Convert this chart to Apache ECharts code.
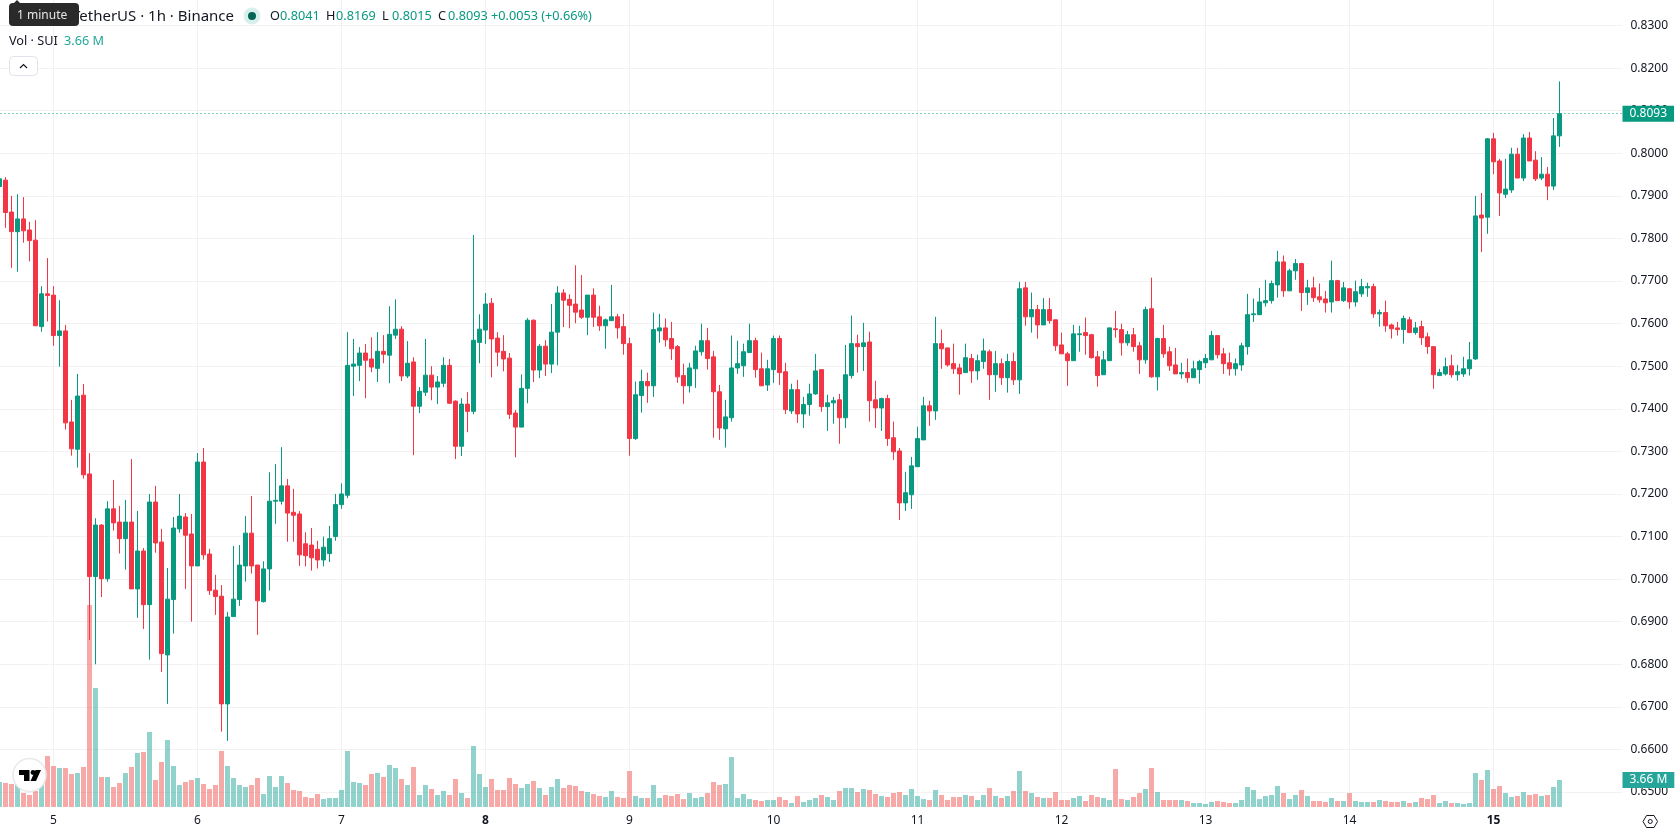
<!DOCTYPE html>
<html>
<head>
<meta charset="utf-8">
<title>SUI / TetherUS 1h</title>
<script src="https://cdn.jsdelivr.net/npm/echarts@6/dist/echarts.min.js"></script>
<style>
  html, body { margin: 0; padding: 0; background: #fff; }
  #chart { width: 1678px; height: 835px; overflow: hidden; }
</style>
</head>
<body>
<div id="chart"></div>
<script>
// Hourly SUI/USDT candles, oldest first
const opens = [
  0.7922,0.7937,0.7862,0.7816,0.7846,0.7820,0.7796,0.7593,0.7670,0.7667,
  0.7572,0.7583,0.7369,0.7305,0.7432,0.7247,0.7006,0.7127,0.7001,0.7165,
  0.7134,0.7095,0.7134,0.6977,0.7066,0.6940,0.7181,0.7087,0.6822,0.6952,
  0.7118,0.7146,0.7106,0.7031,0.7275,0.7059,0.6974,0.6960,0.6707,0.6912,
  0.6952,0.7031,0.7108,0.7033,0.6947,0.7024,0.7183,0.7183,0.7219,0.7157,
  0.7153,0.7083,0.7080,0.7070,0.7045,0.7060,0.7100,0.7175,0.7197,0.7500,
  0.7502,0.7531,0.7517,0.7495,0.7535,0.7526,0.7573,0.7587,0.7477,0.7510,
  0.7406,0.7439,0.7479,0.7451,0.7460,0.7502,0.7418,0.7312,0.7411,0.7394,
  0.7556,0.7585,0.7648,0.7566,0.7535,0.7519,0.7390,0.7357,0.7448,0.7608,
  0.7491,0.7547,0.7505,0.7580,0.7672,0.7657,0.7646,0.7632,0.7615,0.7667,
  0.7616,0.7595,0.7607,0.7616,0.7593,0.7553,0.7330,0.7431,0.7464,0.7454,
  0.7583,0.7590,0.7565,0.7546,0.7478,0.7454,0.7494,0.7534,0.7560,0.7522,
  0.7440,0.7353,0.7379,0.7496,0.7501,0.7532,0.7560,0.7494,0.7456,0.7492,
  0.7565,0.7487,0.7395,0.7445,0.7388,0.7410,0.7435,0.7492,0.7405,0.7414,
  0.7421,0.7379,0.7478,0.7553,0.7546,0.7557,0.7421,0.7402,0.7424,0.7332,
  0.7301,0.7179,0.7198,0.7264,0.7327,0.7407,0.7395,0.7553,0.7543,0.7506,
  0.7496,0.7485,0.7518,0.7489,0.7511,0.7534,0.7480,0.7506,0.7473,0.7511,
  0.7468,0.7684,0.7616,0.7633,0.7597,0.7633,0.7609,0.7550,0.7529,0.7513,
  0.7574,0.7579,0.7574,0.7522,0.7480,0.7513,0.7588,0.7586,0.7555,0.7574,
  0.7548,0.7515,0.7635,0.7475,0.7565,0.7534,0.7503,0.7482,0.7485,0.7473,
  0.7492,0.7508,0.7515,0.7572,0.7529,0.7508,0.7494,0.7503,0.7546,0.7621,
  0.7621,0.7649,0.7654,0.7691,0.7745,0.7677,0.7724,0.7741,0.7673,0.7684,
  0.7663,0.7658,0.7651,0.7701,0.7654,0.7682,0.7651,0.7670,0.7684,0.7687,
  0.7623,0.7626,0.7597,0.7590,0.7586,0.7609,0.7579,0.7593,0.7569,0.7546,
  0.7478,0.7482,0.7501,0.7480,0.7482,0.7494,0.7517,0.7855,0.7850,0.8034,
  0.7982,0.7904,0.7914,0.7998,0.7942,0.8036,0.7984,0.7942,0.7951,0.7923,0.8041
];
const highs = [
  0.7942,0.7944,0.7900,0.7904,0.7897,0.7839,0.7843,0.7688,0.7754,0.7688,
  0.7655,0.7597,0.7421,0.7482,0.7458,0.7296,0.7143,0.7129,0.7183,0.7233,
  0.7172,0.7186,0.7282,0.7160,0.7073,0.7200,0.7219,0.7118,0.7026,0.7146,
  0.7200,0.7155,0.7153,0.7296,0.7308,0.7071,0.7010,0.6986,0.6923,0.7078,
  0.7080,0.7148,0.7195,0.7033,0.7042,0.7251,0.7270,0.7310,0.7235,0.7212,
  0.7160,0.7110,0.7120,0.7090,0.7100,0.7125,0.7200,0.7225,0.7580,0.7564,
  0.7545,0.7552,0.7568,0.7580,0.7573,0.7641,0.7657,0.7594,0.7559,0.7521,
  0.7451,0.7564,0.7500,0.7477,0.7521,0.7517,0.7420,0.7425,0.7439,0.7808,
  0.7622,0.7672,0.7660,0.7580,0.7573,0.7531,0.7397,0.7481,0.7613,0.7610,
  0.7552,0.7561,0.7646,0.7688,0.7681,0.7669,0.7737,0.7714,0.7667,0.7683,
  0.7642,0.7612,0.7691,0.7623,0.7623,0.7567,0.7464,0.7492,0.7485,0.7626,
  0.7623,0.7612,0.7604,0.7550,0.7506,0.7508,0.7548,0.7600,0.7590,0.7536,
  0.7456,0.7421,0.7572,0.7560,0.7553,0.7600,0.7567,0.7532,0.7515,0.7572,
  0.7572,0.7508,0.7459,0.7468,0.7428,0.7459,0.7529,0.7492,0.7433,0.7428,
  0.7435,0.7550,0.7619,0.7574,0.7602,0.7581,0.7466,0.7426,0.7433,0.7370,
  0.7308,0.7252,0.7287,0.7358,0.7428,0.7419,0.7616,0.7586,0.7543,0.7553,
  0.7506,0.7553,0.7529,0.7527,0.7565,0.7539,0.7536,0.7518,0.7529,0.7532,
  0.7698,0.7698,0.7673,0.7644,0.7660,0.7660,0.7609,0.7579,0.7534,0.7597,
  0.7595,0.7614,0.7576,0.7536,0.7536,0.7590,0.7630,0.7600,0.7583,0.7590,
  0.7557,0.7640,0.7708,0.7567,0.7597,0.7546,0.7543,0.7508,0.7518,0.7513,
  0.7515,0.7529,0.7583,0.7572,0.7543,0.7532,0.7518,0.7555,0.7670,0.7659,
  0.7684,0.7703,0.7701,0.7771,0.7760,0.7729,0.7752,0.7743,0.7703,0.7710,
  0.7694,0.7677,0.7748,0.7703,0.7698,0.7684,0.7701,0.7705,0.7696,0.7694,
  0.7633,0.7654,0.7600,0.7604,0.7619,0.7616,0.7604,0.7607,0.7579,0.7546,
  0.7494,0.7520,0.7527,0.7503,0.7522,0.7557,0.7900,0.7907,0.8036,0.8048,
  0.7987,0.7987,0.8013,0.8013,0.8045,0.8050,0.8005,0.7991,0.7968,0.8083,0.8169
];
const lows = [
  0.7920,0.7825,0.7731,0.7722,0.7790,0.7746,0.7595,0.7581,0.7605,0.7548,
  0.7499,0.7351,0.7290,0.7262,0.7236,0.6857,0.6800,0.6958,0.6994,0.7114,
  0.7060,0.7022,0.6977,0.6909,0.6883,0.6811,0.7062,0.6782,0.6707,0.6872,
  0.7109,0.6977,0.6900,0.7031,0.7046,0.6963,0.6916,0.6642,0.6620,0.6912,
  0.6937,0.6994,0.7013,0.6869,0.6945,0.6973,0.7130,0.7175,0.7088,0.7088,
  0.7031,0.7030,0.7020,0.7025,0.7030,0.7040,0.7090,0.7165,0.7190,0.7430,
  0.7465,0.7425,0.7486,0.7463,0.7507,0.7460,0.7564,0.7465,0.7472,0.7291,
  0.7390,0.7430,0.7420,0.7411,0.7451,0.7411,0.7282,0.7289,0.7345,0.7387,
  0.7507,0.7552,0.7474,0.7500,0.7488,0.7376,0.7286,0.7357,0.7413,0.7463,
  0.7472,0.7477,0.7484,0.7502,0.7592,0.7589,0.7601,0.7611,0.7573,0.7592,
  0.7583,0.7541,0.7607,0.7565,0.7527,0.7290,0.7327,0.7391,0.7414,0.7428,
  0.7555,0.7546,0.7515,0.7461,0.7412,0.7438,0.7449,0.7525,0.7492,0.7332,
  0.7327,0.7309,0.7370,0.7482,0.7475,0.7532,0.7473,0.7454,0.7442,0.7461,
  0.7456,0.7388,0.7388,0.7367,0.7355,0.7384,0.7433,0.7393,0.7348,0.7365,
  0.7318,0.7355,0.7471,0.7485,0.7489,0.7370,0.7355,0.7348,0.7313,0.7280,
  0.7139,0.7160,0.7165,0.7264,0.7327,0.7360,0.7374,0.7494,0.7499,0.7482,
  0.7433,0.7485,0.7461,0.7468,0.7494,0.7421,0.7440,0.7456,0.7438,0.7456,
  0.7435,0.7595,0.7579,0.7565,0.7597,0.7600,0.7536,0.7529,0.7454,0.7513,
  0.7534,0.7527,0.7518,0.7452,0.7480,0.7513,0.7567,0.7525,0.7548,0.7534,
  0.7482,0.7506,0.7473,0.7443,0.7520,0.7489,0.7482,0.7471,0.7461,0.7473,
  0.7459,0.7496,0.7515,0.7518,0.7482,0.7478,0.7478,0.7489,0.7527,0.7604,
  0.7621,0.7640,0.7647,0.7661,0.7663,0.7677,0.7703,0.7630,0.7644,0.7651,
  0.7649,0.7626,0.7626,0.7654,0.7651,0.7635,0.7640,0.7663,0.7663,0.7614,
  0.7593,0.7581,0.7565,0.7572,0.7553,0.7579,0.7574,0.7550,0.7529,0.7447,
  0.7478,0.7478,0.7473,0.7466,0.7475,0.7478,0.7515,0.7768,0.7811,0.7951,
  0.7853,0.7895,0.7907,0.7942,0.7935,0.7982,0.7935,0.7937,0.7890,0.7914,0.8015
];
const closes = [
  0.7940,0.7861,0.7816,0.7846,0.7818,0.7795,0.7595,0.7670,0.7666,0.7572,
  0.7583,0.7367,0.7306,0.7430,0.7245,0.7006,0.7127,0.7001,0.7165,0.7132,
  0.7095,0.7134,0.6977,0.7066,0.6940,0.7181,0.7085,0.6825,0.6953,0.7120,
  0.7148,0.7103,0.7031,0.7275,0.7057,0.6973,0.6959,0.6707,0.6911,0.6953,
  0.7033,0.7108,0.7031,0.6949,0.7024,0.7183,0.7185,0.7219,0.7155,0.7150,
  0.7057,0.7055,0.7050,0.7045,0.7075,0.7095,0.7175,0.7200,0.7502,0.7505,
  0.7531,0.7514,0.7498,0.7535,0.7528,0.7575,0.7587,0.7477,0.7507,0.7406,
  0.7441,0.7479,0.7451,0.7463,0.7502,0.7413,0.7312,0.7411,0.7394,0.7561,
  0.7587,0.7646,0.7564,0.7533,0.7517,0.7387,0.7357,0.7448,0.7608,0.7491,
  0.7547,0.7505,0.7580,0.7672,0.7655,0.7643,0.7627,0.7615,0.7667,0.7615,
  0.7595,0.7609,0.7616,0.7590,0.7553,0.7330,0.7433,0.7464,0.7454,0.7586,
  0.7590,0.7562,0.7541,0.7475,0.7454,0.7496,0.7536,0.7560,0.7518,0.7440,
  0.7355,0.7381,0.7496,0.7506,0.7534,0.7560,0.7492,0.7454,0.7494,0.7565,
  0.7485,0.7398,0.7445,0.7388,0.7410,0.7435,0.7489,0.7405,0.7414,0.7419,
  0.7379,0.7480,0.7553,0.7546,0.7555,0.7419,0.7402,0.7424,0.7330,0.7299,
  0.7179,0.7203,0.7266,0.7330,0.7407,0.7395,0.7553,0.7541,0.7503,0.7494,
  0.7482,0.7520,0.7489,0.7513,0.7536,0.7480,0.7506,0.7473,0.7511,0.7468,
  0.7682,0.7616,0.7633,0.7597,0.7633,0.7607,0.7548,0.7529,0.7513,0.7576,
  0.7576,0.7572,0.7520,0.7478,0.7515,0.7590,0.7586,0.7555,0.7574,0.7546,
  0.7515,0.7633,0.7475,0.7565,0.7529,0.7501,0.7482,0.7485,0.7473,0.7494,
  0.7511,0.7518,0.7572,0.7527,0.7506,0.7494,0.7506,0.7548,0.7621,0.7623,
  0.7651,0.7654,0.7694,0.7745,0.7677,0.7724,0.7741,0.7673,0.7684,0.7661,
  0.7656,0.7649,0.7701,0.7654,0.7684,0.7651,0.7675,0.7687,0.7687,0.7623,
  0.7626,0.7595,0.7588,0.7586,0.7612,0.7579,0.7590,0.7567,0.7546,0.7480,
  0.7485,0.7499,0.7480,0.7487,0.7494,0.7515,0.7853,0.7848,0.8034,0.7980,
  0.7907,0.7916,0.7998,0.7942,0.8036,0.7982,0.7940,0.7951,0.7923,0.8041,0.8093
];
// Traded volume per candle, in millions of SUI
const volumes = [
  3.39,3.25,3.12,3.66,1.90,1.63,2.17,2.98,6.92,5.56,
  5.29,5.29,4.47,4.61,5.42,27.39,16.14,4.07,4.07,2.71,
  3.25,4.61,5.42,7.32,7.46,10.17,3.66,6.10,9.09,5.56,
  2.98,3.39,3.66,3.93,3.12,2.44,2.98,7.59,5.56,3.93,
  2.98,2.71,2.98,3.93,1.76,4.20,2.71,4.20,3.25,2.31,
  2.17,1.36,1.22,1.76,1.08,1.22,1.22,2.31,7.59,3.39,
  3.25,2.98,4.47,4.61,4.07,5.70,5.29,3.80,2.98,5.42,
  1.63,2.98,2.44,1.63,2.17,1.63,3.80,1.90,1.22,8.27,
  4.47,2.71,3.80,2.31,2.31,3.93,3.12,2.58,3.12,3.53,
  2.58,1.63,2.71,3.80,2.58,2.98,2.85,2.17,2.03,1.76,
  1.49,1.36,2.17,1.36,1.22,4.88,1.49,1.22,1.22,2.98,
  1.22,1.63,1.49,1.76,1.08,1.90,1.22,1.36,1.90,3.39,
  2.98,3.12,6.78,1.22,1.76,1.08,0.95,0.81,0.95,0.95,
  1.36,0.95,0.54,1.49,0.68,0.95,1.22,1.63,1.36,0.95,
  2.17,2.58,2.58,2.03,2.44,2.31,1.76,1.49,1.36,1.90,
  2.03,1.63,2.44,1.49,1.08,0.95,2.31,1.63,0.95,1.36,
  1.36,1.63,1.49,0.95,1.63,2.58,1.49,1.22,1.49,2.17,
  4.88,2.17,1.90,1.36,1.22,1.22,2.03,0.95,0.95,1.22,
  1.49,0.81,1.63,1.36,1.22,0.95,5.15,1.08,0.95,1.36,
  1.90,2.44,5.29,2.03,0.95,0.95,0.95,0.95,0.81,0.54,
  0.54,0.41,0.68,0.81,0.68,0.54,0.54,0.95,2.71,2.31,
  1.08,1.49,1.63,2.85,1.90,1.08,1.63,2.31,1.49,0.81,
  0.81,0.68,1.22,0.81,0.81,1.90,0.81,0.68,0.68,0.68,
  0.95,0.81,0.68,0.68,0.81,0.54,0.68,1.22,1.08,1.63,
  0.54,0.81,0.54,0.54,0.41,0.54,4.61,3.66,5.02,2.44,
  2.85,1.90,1.36,1.49,2.03,1.63,1.76,1.49,1.63,2.71,3.66
];
// Day labels on the time scale: candle index of each day's first hour
const dayStarts = [9, 33, 57, 81, 105, 129, 153, 177, 201, 225, 249];
const dayLabels = ['5', '6', '7', '8', '9', '10', '11', '12', '13', '14', '15'];
const boldDays = ['8', '15'];
const lastPrice = 0.8093;
const lastVolume = 3.66;
const legendValues = ['0.8041', '0.8169', '0.8015', '0.8093', '+0.0053 (+0.66%)'];

const UP = '#089981', DOWN = '#F23645';
const VOL_UP = 'rgba(38,166,154,0.5)', VOL_DOWN = 'rgba(239,83,80,0.5)';
const GRID = '#f2f2f2', INK = '#131722';
const FONT = '"Noto Sans", sans-serif';

// Band slots run past the last candle to leave the empty space on the right
const SLOTS = 271;
const categories = Array.from({ length: SLOTS }, (_, i) => String(i));
const labelAt = new Map(dayStarts.map((s, i) => [s, dayLabels[i]]));

const candleData = opens.map((o, i) => [o, closes[i], lows[i], highs[i]]);
const volumeData = volumes.map((v, i) => ({
  value: v,
  itemStyle: { color: closes[i] >= opens[i] ? VOL_UP : VOL_DOWN }
}));

const tagLabel = (bg, text) => ({
  show: true, position: 'end', distance: 0, formatter: text,
  backgroundColor: bg, color: '#fff', padding: [2, 7, 2, 7],
  fontFamily: FONT, fontSize: 12, lineHeight: 12
});

const txt = (x, y, text, fill, size) => ({
  type: 'text', x, y, z: 100,
  style: { text, fill, font: (size || 12.7) + 'px ' + FONT, verticalAlign: 'middle' }
});

const legendX = [270, 326, 382, 438];
const legendKeys = ['O', 'H', 'L', 'C'];

const chart = echarts.init(document.getElementById('chart'), null, { renderer: 'canvas' });
chart.setOption({
  animation: false,
  backgroundColor: '#ffffff',
  grid: [
    { left: -3.5, width: SLOTS * 6, top: -17, height: 851.6, outerBoundsMode: 'none', containLabel: false },
    { left: -3.5, width: SLOTS * 6, top: 0, height: 807, outerBoundsMode: 'none', containLabel: false }
  ],
  xAxis: [
    { type: 'category', gridIndex: 0, data: categories, show: false },
    {
      type: 'category', gridIndex: 1, data: categories, position: 'bottom',
      axisLine: { show: false }, axisTick: { show: false },
      axisLabel: {
        color: INK, fontFamily: FONT, fontSize: 12, margin: 8,
        interval: (i) => labelAt.has(i),
        formatter: (v, i) => {
          const d = labelAt.get(i);
          return boldDays.includes(d) ? '{b|' + d + '}' : d;
        },
        rich: { b: { fontWeight: 'bold', fontSize: 12, fontFamily: FONT, color: INK } }
      },
      splitLine: {
        show: true, alignWithLabel: true,
        interval: (i) => labelAt.has(i),
        lineStyle: { color: GRID, width: 1 }
      }
    }
  ],
  yAxis: [
    {
      type: 'value', gridIndex: 0, position: 'right',
      min: 0.64, max: 0.84, interval: 0.01,
      axisLine: { show: false }, axisTick: { show: false },
      axisLabel: {
        color: INK, fontFamily: FONT, fontSize: 12, margin: 8,
        formatter: (v) => (v < 0.645 || v > 0.835) ? '' : v.toFixed(4)
      },
      splitLine: { show: true, showMinLine: false, showMaxLine: false, lineStyle: { color: GRID, width: 1 } }
    },
    { type: 'value', gridIndex: 1, min: 0, max: 109.4, show: false }
  ],
  series: [
    {
      name: 'Vol', type: 'bar', xAxisIndex: 1, yAxisIndex: 1,
      barWidth: 5, data: volumeData, silent: true,
      markLine: {
        silent: true, symbol: 'none', animation: false, precision: 4,
        lineStyle: { color: 'rgba(0,0,0,0)', width: 1 },
        label: tagLabel('#26a69a', lastVolume + ' M'),
        data: [{ yAxis: lastVolume }]
      }
    },
    {
      name: 'SUIUSDT', type: 'candlestick', xAxisIndex: 0, yAxisIndex: 0,
      barWidth: 4, data: candleData, silent: true,
      itemStyle: { color: UP, color0: DOWN, borderColor: UP, borderColor0: DOWN, borderWidth: 1 },
      markLine: {
        silent: true, symbol: 'none', animation: false, precision: 4,
        lineStyle: { color: UP, type: [1, 3], width: 1 },
        label: tagLabel(UP, lastPrice.toFixed(4)),
        data: [{ yAxis: lastPrice }]
      }
    }
  ],
  graphic: [
    // Legend lines
    { type: 'text', x: 234, y: 17, z: 100,
      style: { text: 'SUI / TetherUS · 1h · Binance', fill: INK, font: '15px ' + FONT, align: 'right', verticalAlign: 'middle' } },
    { type: 'circle', z: 100, shape: { cx: 252, cy: 16, r: 8.5 }, style: { fill: '#d9efeb' } },
    { type: 'circle', z: 100, shape: { cx: 252, cy: 16, r: 4 }, style: { fill: '#056656' } },
    ...legendKeys.map((k, i) => txt(legendX[i], 16.5, k, INK)),
    ...legendValues.slice(0, 4).map((v, i) => txt(legendX[i] + 10, 16.5, v, UP)),
    txt(491, 16.5, legendValues[4], UP),
    txt(9, 41, 'Vol · SUI', INK),
    txt(64, 41, lastVolume + ' M', '#26a69a'),
    // Collapse button
    { type: 'rect', z: 100, shape: { x: 9.5, y: 56.5, width: 28, height: 19, r: 4 },
      style: { fill: '#fff', stroke: '#e0e3eb', lineWidth: 1 } },
    { type: 'polyline', z: 101, shape: { points: [[20, 68], [23.5, 64.5], [27, 68]] },
      style: { fill: null, stroke: INK, lineWidth: 1.2 } },
    // Hover hint
    { type: 'polygon', z: 110, shape: { points: [[13, 4], [17, 0], [21, 4]] }, style: { fill: '#2a2a2a' } },
    { type: 'rect', z: 110, shape: { x: 9, y: 3, width: 70, height: 23, r: 4 }, style: { fill: '#2a2a2a' } },
    { type: 'text', z: 111, x: 17, y: 15.5,
      style: { text: '1 minute', fill: '#e6e6e6', font: '12px ' + FONT, verticalAlign: 'middle' } },
    // Logo badge
    { type: 'circle', z: 100, shape: { cx: 29.5, cy: 775, r: 16.5 },
      style: { fill: '#fff', stroke: '#e9e9e9', lineWidth: 1.5 } },
    { type: 'polygon', z: 101, shape: { points: [[19, 770], [29.5, 770], [29.5, 781], [24, 781], [24, 775], [19, 775]] },
      style: { fill: '#000' } },
    { type: 'circle', z: 101, shape: { cx: 33, cy: 772.5, r: 2.4 }, style: { fill: '#000' } },
    { type: 'polygon', z: 101, shape: { points: [[35.5, 770], [41, 770], [36, 781], [30.5, 781]] },
      style: { fill: '#000' } },
    // Settings icon
    { type: 'polygon', z: 100,
      shape: { points: [[1643, 821.5], [1646.5, 815.5], [1654, 815.5], [1657.5, 821.5], [1654, 827.5], [1646.5, 827.5]] },
      style: { fill: null, stroke: INK, lineWidth: 1 } },
    { type: 'circle', z: 100, shape: { cx: 1650.25, cy: 821.5, r: 2 },
      style: { fill: null, stroke: INK, lineWidth: 1 } }
  ]
});
</script>
</body>
</html>
